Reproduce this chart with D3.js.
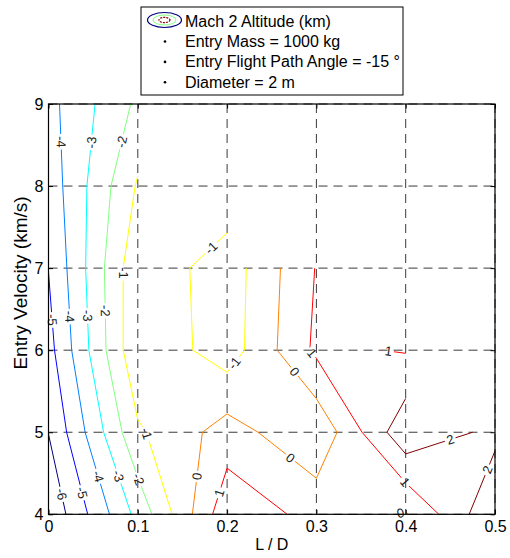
<!DOCTYPE html>
<html>
<head>
<meta charset="utf-8">
<script src="https://cdn.jsdelivr.net/npm/d3@7"></script>
<style>
  body { margin: 0; background: #fff; }
  text { font-family: "Liberation Sans", Arial, Helvetica, sans-serif; }
</style>
</head>
<body>
<svg id="chart" width="510" height="558"></svg>
<script>
// ---------------- data ----------------
const ldValues = [0, 0.1, 0.2, 0.3, 0.4, 0.5];          // L / D (columns)
const velocityValues = [4, 5, 6, 7, 8, 9];              // entry velocity km/s (rows)
// Mach 2 altitude (km) at each grid node; null = no solution
const altAtV4 = [-6.8, -2.7, 1.72, 0.65, -0.09, 2.85];
const altAtV5 = [-5.98, -1.15, 0.44, -0.83, 2.75, 1.75];
const altAtV6 = [-5.35, -0.15, -1.53, 1.2, 0.93, null];
const altAtV7 = [-4.98, -0.22, -1.56, 1.05, null, null];
const altAtV8 = [-4.59, -0.89, -0.26, null, null, null];
const altAtV9 = [-4.31, -1.8, null, null, null, null];
const contourLevels = [-6, -5, -4, -3, -2, -1, 0, 1, 2];
const xTickValues = [0, 0.1, 0.2, 0.3, 0.4, 0.5];
const yTickValues = [4, 5, 6, 7, 8, 9];
// inline contour labels (level, approx L/D, approx velocity)
const labelLevels = [-4, -3, -2, -1, -1, -5, -4, -3, -2, -6, -5, -4, -3, -2, -1, 0, 1, -1, 1, 0, 0, 1, 2, 2, 1, 0];
const labelLD  = [0.0141, 0.0495, 0.082, 0.0845, 0.181, 0.0054, 0.0247, 0.043, 0.0645, 0.0129, 0.0364, 0.055, 0.0764, 0.0988, 0.106, 0.1673, 0.1915, 0.2085, 0.2942, 0.2736, 0.269, 0.3805, 0.4502, 0.492, 0.4, 0.3937];
const labelVel = [8.54, 8.53, 8.54, 6.94, 7.26, 6.37, 6.41, 6.42, 6.48, 4.24, 4.26, 4.46, 4.46, 4.42, 4.97, 4.46, 4.26, 5.84, 5.96, 5.72, 4.66, 5.97, 4.9, 4.54, 4.4, 4.04];
const legendTitle = "Mach 2 Altitude (km)";
const legendNotes = ["Entry Mass = 1000 kg", "Entry Flight Path Angle = -15 °", "Diameter = 2 m"];
const xLabel = "L / D";
const yLabel = "Entry Velocity (km/s)";

// ---------------- setup ----------------
const W = 510, H = 558;
const svg = d3.select("#chart");
const x = d3.scaleLinear().domain([0, 0.5]).range([48.5, 495]);
const y = d3.scaleLinear().domain([4, 9]).range([514.3, 104]);
const grid = [altAtV4, altAtV5, altAtV6, altAtV7, altAtV8, altAtV9];

const cMin = d3.min(contourLevels), cMax = d3.max(contourLevels);
function jet(t) {
  const c = v => Math.max(0, Math.min(1, v));
  const r = c(1.5 - Math.abs(4 * t - 3)), g = c(1.5 - Math.abs(4 * t - 2)), b = c(1.5 - Math.abs(4 * t - 1));
  return d3.rgb(r * 255, g * 255, b * 255).formatHex();
}
const levelColor = L => jet((L - cMin) / (cMax - cMin));

// ---------------- marching squares (MATLAB-like, NaN cells skipped) ----------------
function contourLines(L) {
  const nx = ldValues.length, ny = velocityValues.length;
  const ok = v => v !== null && isFinite(v);
  const segs = [];
  const points = {};
  function edgePoint(key, i0, j0, i1, j1) {
    if (!points[key]) {
      const v0 = grid[j0][i0], v1 = grid[j1][i1];
      const t = (L - v0) / (v1 - v0);
      points[key] = [ldValues[i0] + t * (ldValues[i1] - ldValues[i0]),
                     velocityValues[j0] + t * (velocityValues[j1] - velocityValues[j0])];
    }
    return key;
  }
  for (let j = 0; j < ny - 1; j++) {
    for (let i = 0; i < nx - 1; i++) {
      const a = grid[j][i], b = grid[j][i + 1], c = grid[j + 1][i + 1], d = grid[j + 1][i];
      if (![a, b, c, d].every(ok)) continue;
      const A = a >= L, B = b >= L, C = c >= L, D = d >= L;
      const E = [];
      E[0] = A !== B ? edgePoint(`h${i},${j}`, i, j, i + 1, j) : null;       // bottom
      E[1] = B !== C ? edgePoint(`v${i + 1},${j}`, i + 1, j, i + 1, j + 1) : null; // right
      E[2] = D !== C ? edgePoint(`h${i},${j + 1}`, i, j + 1, i + 1, j + 1) : null; // top
      E[3] = A !== D ? edgePoint(`v${i},${j}`, i, j, i, j + 1) : null;       // left
      const crossing = E.filter(e => e !== null);
      if (crossing.length === 2) {
        segs.push(crossing);
      } else if (crossing.length === 4) {
        const center = (a + b + c + d) / 4;
        const isolateA = (center >= L) ? !A : A;
        if (isolateA) { segs.push([E[0], E[3]]); segs.push([E[1], E[2]]); }
        else { segs.push([E[0], E[1]]); segs.push([E[2], E[3]]); }
      }
    }
  }
  const adj = {};
  segs.forEach((s, k) => { s.forEach(p => { (adj[p] = adj[p] || []).push(k); }); });
  const used = new Array(segs.length).fill(false);
  const lines = [];
  function trace(startKey) {
    const keys = [startKey];
    let cur = startKey;
    while (true) {
      const next = (adj[cur] || []).find(k => !used[k]);
      if (next === undefined) break;
      used[next] = true;
      const s = segs[next];
      cur = s[0] === cur ? s[1] : s[0];
      keys.push(cur);
    }
    return keys.map(k => points[k]);
  }
  Object.keys(adj).filter(k => adj[k].length === 1).forEach(k => {
    if (!used[adj[k][0]]) lines.push(trace(k));
  });
  segs.forEach((s, k) => { if (!used[k]) lines.push(trace(s[0])); });
  return lines;
}

const contourData = contourLevels.map(L => ({ level: L, lines: contourLines(L) }));

// ---------------- defs / mask for label gaps ----------------
const defs = svg.append("defs");
const mask = defs.append("mask").attr("id", "labelGaps")
  .attr("maskUnits", "userSpaceOnUse").attr("x", 0).attr("y", 0).attr("width", W).attr("height", H);
mask.append("rect").attr("width", W).attr("height", H).attr("fill", "white");

// ---------------- grid ----------------
const gridG = svg.append("g").attr("stroke", "#3a3a3a").attr("stroke-width", 1).attr("stroke-dasharray", "9,6");
gridG.selectAll("line.gx").data(xTickValues).join("line")
  .attr("x1", d => x(d)).attr("x2", d => x(d)).attr("y1", y(9)).attr("y2", y(4));
gridG.selectAll("line.gy").data(yTickValues).join("line")
  .attr("y1", d => y(d)).attr("y2", d => y(d)).attr("x1", x(0)).attr("x2", x(0.5));

// ---------------- contour lines ----------------
const line = d3.line().x(d => x(d[0])).y(d => y(d[1]));
const contourG = svg.append("g").attr("mask", "url(#labelGaps)").attr("fill", "none").attr("stroke-width", 1);
contourData.forEach(cd => {
  contourG.selectAll(null).data(cd.lines).join("path")
    .attr("d", line).attr("stroke", levelColor(cd.level));
});

// ---------------- inline labels ----------------
const labelG = svg.append("g");
labelLevels.forEach((L, k) => {
  const px = x(labelLD[k]), py = y(labelVel[k]);
  const cd = contourData.find(c => c.level === L);
  let best = null;
  cd.lines.forEach(pl => {
    for (let s = 0; s < pl.length - 1; s++) {
      const x0 = x(pl[s][0]), y0 = y(pl[s][1]), x1 = x(pl[s + 1][0]), y1 = y(pl[s + 1][1]);
      const dx = x1 - x0, dy = y1 - y0, len2 = dx * dx + dy * dy || 1;
      let t = ((px - x0) * dx + (py - y0) * dy) / len2;
      t = Math.max(0, Math.min(1, t));
      const qx = x0 + t * dx, qy = y0 + t * dy;
      const dist = Math.hypot(px - qx, py - qy);
      if (!best || dist < best.dist) best = { dist, qx, qy, dx, dy };
    }
  });
  if (!best) return;
  let ang = Math.atan2(best.dy, best.dx) * 180 / Math.PI;
  if (ang > 90) ang -= 180;
  if (ang <= -90) ang += 180;
  const t = labelG.append("text")
    .attr("transform", `translate(${best.qx},${best.qy}) rotate(${ang})`)
    .attr("text-anchor", "middle").attr("dy", "0.35em")
    .attr("font-size", 13).attr("fill", "#222")
    .text(String(L));
  const w = t.node().getComputedTextLength();
  mask.append("rect")
    .attr("transform", `translate(${best.qx},${best.qy}) rotate(${ang})`)
    .attr("x", -w / 2 - 2).attr("y", -6).attr("width", w + 4).attr("height", 12)
    .attr("fill", "black");
});

// ---------------- axes ----------------
const tickFmt = d => String(d);
svg.append("g").attr("transform", `translate(0,${y(4)})`)
  .call(d3.axisBottom(x).tickValues(xTickValues).tickFormat(tickFmt).tickSizeInner(-4.5).tickSizeOuter(0).tickPadding(6))
  .call(g => g.select(".domain").remove())
  .call(g => g.selectAll("text").attr("font-size", 16).attr("fill", "#000").attr("font-family", "Liberation Sans, Arial, sans-serif"))
  .call(g => g.selectAll("line").attr("stroke", "#000"));
svg.append("g").attr("transform", `translate(${x(0)},0)`)
  .call(d3.axisLeft(y).tickValues(yTickValues).tickFormat(tickFmt).tickSizeInner(-4.5).tickSizeOuter(0).tickPadding(5))
  .call(g => g.select(".domain").remove())
  .call(g => g.selectAll("text").attr("font-size", 16).attr("fill", "#000").attr("font-family", "Liberation Sans, Arial, sans-serif"))
  .call(g => g.selectAll("line").attr("stroke", "#000"));
svg.append("g").attr("transform", `translate(0,${y(9)})`)
  .call(d3.axisTop(x).tickValues(xTickValues).tickFormat("").tickSizeInner(-4.5).tickSizeOuter(0))
  .call(g => g.select(".domain").remove())
  .call(g => g.selectAll("line").attr("stroke", "#000"));
svg.append("g").attr("transform", `translate(${x(0.5)},0)`)
  .call(d3.axisRight(y).tickValues(yTickValues).tickFormat("").tickSizeInner(-4.5).tickSizeOuter(0))
  .call(g => g.select(".domain").remove())
  .call(g => g.selectAll("line").attr("stroke", "#000"));

svg.append("rect")
  .attr("x", x(0)).attr("y", y(9)).attr("width", x(0.5) - x(0)).attr("height", y(4) - y(9))
  .attr("fill", "none").attr("stroke", "#000").attr("stroke-width", 1.2);

svg.append("text").attr("x", (x(0) + x(0.5)) / 2).attr("y", 550)
  .attr("text-anchor", "middle").attr("font-size", 16).text(xLabel);
svg.append("text").attr("transform", `translate(27,283) rotate(-90)`)
  .attr("text-anchor", "middle").attr("font-size", 19).text(yLabel);

// ---------------- legend ----------------
const lg = svg.append("g");
lg.append("rect").attr("x", 141).attr("y", 7).attr("width", 262).attr("height", 88)
  .attr("fill", "#fff").attr("stroke", "#000").attr("stroke-width", 1);
const iconX = 164.5, iconY = 20;
lg.append("ellipse").attr("cx", iconX).attr("cy", iconY).attr("rx", 17).attr("ry", 7.5)
  .attr("fill", "none").attr("stroke", levelColor(-6)).attr("stroke-width", 1.2);
lg.append("ellipse").attr("cx", iconX).attr("cy", iconY).attr("rx", 11.5).attr("ry", 5)
  .attr("fill", "none").attr("stroke", levelColor(-2)).attr("stroke-width", 1);
lg.append("ellipse").attr("cx", iconX).attr("cy", iconY).attr("rx", 5.5).attr("ry", 2.6)
  .attr("fill", "none").attr("stroke", levelColor(2)).attr("stroke-width", 1.2).attr("stroke-dasharray", "2,1");
const lgTexts = [legendTitle].concat(legendNotes);
lg.selectAll("text.lt").data(lgTexts).join("text")
  .attr("x", 185).attr("y", (d, i) => 26.5 + i * 20.4)
  .attr("font-size", 16).attr("fill", "#000").text(d => d);
lg.selectAll("circle.dot").data(legendNotes).join("circle")
  .attr("cx", 165).attr("cy", (d, i) => 41.5 + i * 20.4).attr("r", 1.3).attr("fill", "#000");
</script>
</body>
</html>
